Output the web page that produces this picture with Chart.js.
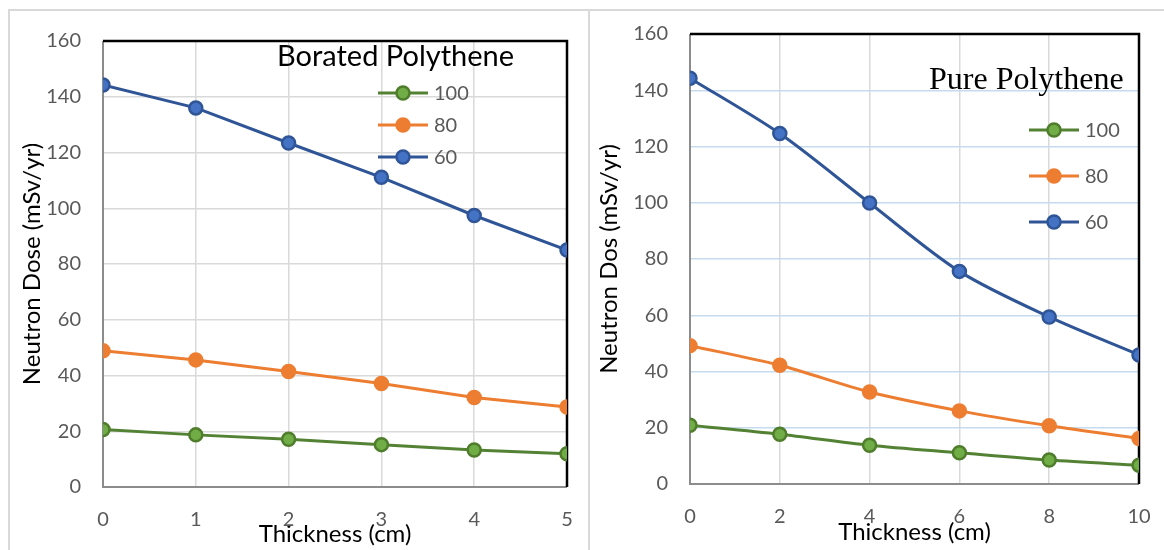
<!DOCTYPE html>
<html>
<head>
<meta charset="utf-8">
<script src="https://cdn.jsdelivr.net/npm/chart.js@4.4.1/dist/chart.umd.min.js"></script>
<style>
  body { margin: 0; background: #fff; }
  #wrap { position: relative; width: 1164px; height: 550px; overflow: hidden; }
  .rule { position: absolute; background: #d9d9d9; }
  .pane { position: absolute; top: 0; height: 550px; }
</style>
</head>
<body>
<div id="wrap">
  <div class="rule" style="left:8px; top:9px; width:1156px; height:2px;"></div>
  <div class="rule" style="left:8px; top:9px; width:2px; height:541px;"></div>
  <div class="rule" style="left:588px; top:9px; width:2px; height:541px;"></div>
  <div class="pane" style="left:0; width:580px;"><canvas id="borated" width="580" height="550"></canvas></div>
  <div class="pane" style="left:580px; width:584px;"><canvas id="pure" width="584" height="550"></canvas></div>
</div>
<script>
// energies (legend labels)
const seriesLabels = ['100', '80', '60'];

// Borated polythene, thickness 0..5 cm
const thickBorated = [0, 1, 2, 3, 4, 5];
const borated100 = [20.6, 18.7, 17.1, 15.2, 13.3, 11.9];
const borated80 = [48.9, 45.6, 41.4, 37.1, 32.1, 28.7];
const borated60 = [144.2, 136.0, 123.4, 111.1, 97.4, 85.0];

// Pure polythene, thickness 0..10 cm
const thickPure = [0, 2, 4, 6, 8, 10];
const pure100 = [20.9, 17.7, 13.8, 11.1, 8.5, 6.7];
const pure80 = [49.2, 42.2, 32.7, 26.0, 20.7, 16.2];
const pure60 = [144.3, 124.6, 99.9, 75.6, 59.4, 45.9];

const doseTicks = [0, 20, 40, 60, 80, 100, 120, 140, 160];

const styles = [
  { line: '#548235', fill: '#70ad47', edge: '#4f7d2c' },
  { line: '#ed7d31', fill: '#ed7d31', edge: '#ed7d31' },
  { line: '#2f5597', fill: '#4472c4', edge: '#2f5597' }
];

const tickColor = '#595959';
const sans = 'Lato';

function makeDatasets(xs, lists, tension) {
  return lists.map((vals, i) => ({
    label: seriesLabels[i],
    data: xs.map((x, j) => ({ x: x, y: vals[j] })),
    borderColor: styles[i].line,
    backgroundColor: styles[i].fill,
    pointBackgroundColor: styles[i].fill,
    pointBorderColor: styles[i].edge,
    pointRadius: 6.5,
    pointBorderWidth: 2.5,
    borderWidth: 3,
    tension: tension
  }));
}

// frame of plot area: black top/right, grey left/bottom
const framePlugin = {
  id: 'frame',
  beforeDatasetsDraw(chart) {
    const a = chart.chartArea;
    const ctx = chart.ctx;
    ctx.save();
    ctx.lineWidth = 2;
    ctx.strokeStyle = '#8c8c8c';
    ctx.beginPath();
    ctx.moveTo(a.left, a.top);
    ctx.lineTo(a.left, a.bottom);
    ctx.lineTo(a.right, a.bottom);
    ctx.stroke();
    ctx.strokeStyle = '#000';
    ctx.lineWidth = 2.5;
    ctx.beginPath();
    ctx.moveTo(a.left, a.top);
    ctx.lineTo(a.right, a.top);
    ctx.lineTo(a.right, a.bottom);
    ctx.stroke();
    ctx.restore();
  }
};

// title + legend drawn inside the plot area
const insetPlugin = {
  id: 'inset',
  afterDatasetsDraw(chart, args, opts) {
    const ctx = chart.ctx;
    const a = chart.chartArea;
    ctx.save();
    ctx.fillStyle = '#000';
    ctx.font = opts.titleFont;
    ctx.textAlign = 'left';
    ctx.textBaseline = 'middle';
    ctx.fillText(opts.title, a.left + opts.titleX, a.top + opts.titleY);

    ctx.font = '20px ' + sans;
    chart.data.datasets.forEach((ds, i) => {
      const x0 = a.left + opts.legX;
      const y = a.top + opts.legY + i * opts.legGap;
      ctx.strokeStyle = ds.borderColor;
      ctx.lineWidth = 3;
      ctx.beginPath();
      ctx.moveTo(x0, y);
      ctx.lineTo(x0 + 50, y);
      ctx.stroke();
      ctx.beginPath();
      ctx.arc(x0 + 25, y, 6.5, 0, Math.PI * 2);
      ctx.fillStyle = ds.pointBackgroundColor;
      ctx.fill();
      ctx.lineWidth = 2.5;
      ctx.strokeStyle = ds.pointBorderColor;
      ctx.stroke();
      ctx.fillStyle = tickColor;
      ctx.fillText(ds.label, x0 + 56, y + 1);
    });
    ctx.restore();
  }
};

function makeChart(id, xs, lists, cfg) {
  return new Chart(document.getElementById(id), {
    type: 'line',
    data: { datasets: makeDatasets(xs, lists, cfg.tension) },
    options: {
      responsive: false,
      animation: false,
      layout: { padding: { left: 0, top: cfg.top, right: cfg.right, bottom: 0 } },
      plugins: {
        legend: { display: false },
        tooltip: { enabled: false },
        inset: cfg.inset
      },
      scales: {
        x: {
          type: 'linear',
          min: xs[0],
          max: xs[xs.length - 1],
          ticks: { stepSize: xs[1] - xs[0], color: tickColor, font: { family: sans, size: 20 }, padding: 21 },
          grid: { color: '#d9d9d9', lineWidth: 1.5, drawTicks: false },
          border: { display: false },
          title: { display: true, text: 'Thickness (cm)', color: '#000', font: { family: sans, size: 24 }, padding: { top: 0, bottom: cfg.xTitlePad } },
          afterFit(scale) {
            scale.height = cfg.xHeight;
            scale.paddingLeft = 0;
            scale.paddingRight = 0;
          }
        },
        y: {
          min: doseTicks[0],
          max: doseTicks[doseTicks.length - 1],
          afterBuildTicks(scale) { scale.ticks = doseTicks.map(v => ({ value: v })); },
          ticks: { color: tickColor, font: { family: sans, size: 20 }, padding: 22 },
          grid: { color: cfg.hGrid, lineWidth: 1.5, drawTicks: false },
          border: { display: false },
          title: { display: true, text: cfg.yTitle, color: '#000', font: { family: sans, size: 24 }, padding: { top: cfg.yTitlePad, bottom: 0 } },
          afterFit(scale) { scale.width = cfg.yWidth; }
        }
      }
    },
    plugins: [framePlugin, insetPlugin]
  });
}

makeChart('borated', thickBorated, [borated100, borated80, borated60], {
  tension: 0,
  top: 41,
  right: 13,
  xHeight: 63,
  xTitlePad: 1,
  yWidth: 103,
  yTitlePad: 18,
  hGrid: '#d9d9d9',
  yTitle: 'Neutron Dose (mSv/yr)',
  inset: {
    title: 'Borated Polythene',
    titleFont: '29px ' + sans,
    titleX: 174, titleY: 16,
    legX: 275, legY: 52, legGap: 32
  }
});

makeChart('pure', thickPure, [pure100, pure80, pure60], {
  tension: 0.3,
  top: 32,
  right: 25,
  xHeight: 66,
  xTitlePad: 3,
  yWidth: 110,
  yTitlePad: 15,
  hGrid: '#c5dcf0',
  yTitle: 'Neutron Dos (mSv/yr)',
  inset: {
    title: 'Pure Polythene',
    titleFont: '32px "Liberation Serif"',
    titleX: 239, titleY: 47,
    legX: 339, legY: 96, legGap: 46
  }
});
</script>
</body>
</html>
